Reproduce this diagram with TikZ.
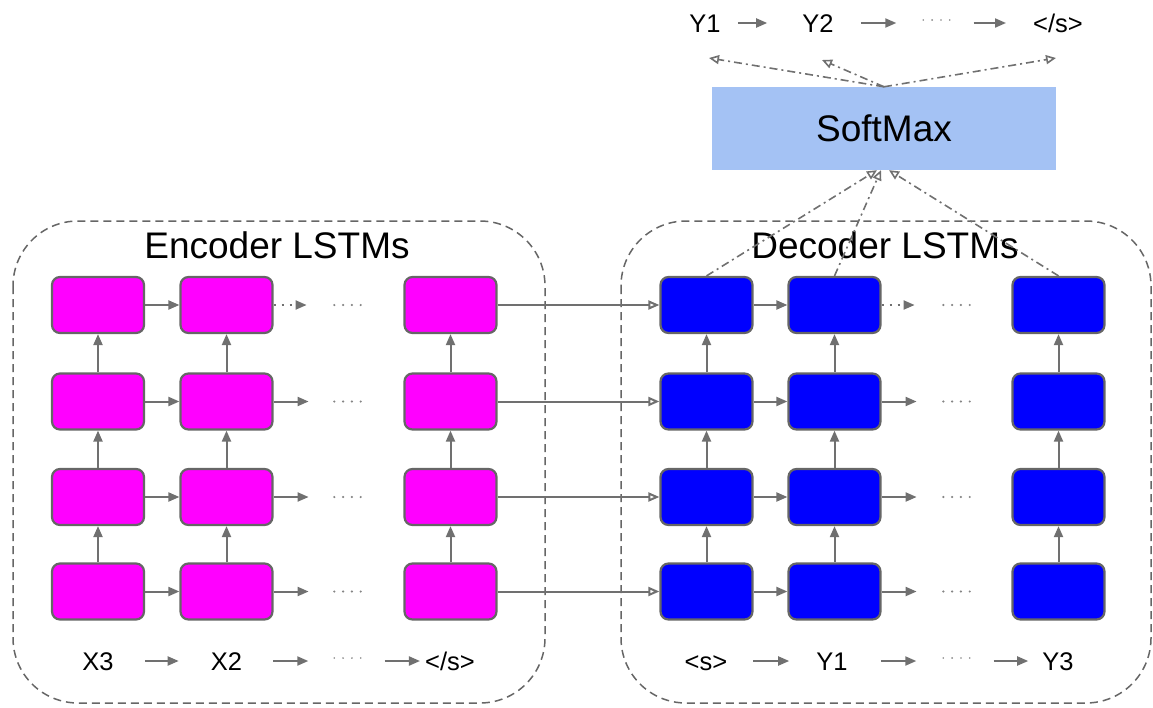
\documentclass[tikz,border=0pt]{standalone}
\usepackage{fontspec}
\setmainfont{Liberation Sans}
\usetikzlibrary{arrows.meta}

\definecolor{linegray}{RGB}{112,112,112}
\definecolor{bordergray}{RGB}{102,102,102}
\definecolor{softblue}{RGB}{164,194,244}
\definecolor{encmag}{RGB}{255,0,255}
\definecolor{decblue}{RGB}{0,0,255}

\begin{document}
\begin{tikzpicture}[x=1pt,y=-1pt,
  cell/.style={draw=bordergray, line width=2.2pt, rounded corners=8pt,
    minimum width=92pt, minimum height=56pt, inner sep=0pt},
  enc/.style={cell, fill=encmag},
  dec/.style={cell, fill=decblue},
  arr/.style={draw=linegray, line width=2pt, -{Triangle[length=11pt,width=9pt]}},
  dotarr/.style={arr, dash pattern=on 2pt off 6pt},
  openarr/.style={draw=linegray, line width=2pt,
    -{Triangle[open,length=11pt,width=9pt,fill=white]}},
  ddarr/.style={draw=linegray, line width=1.6pt,
    dash pattern=on 8pt off 4pt on 2pt off 4pt,
    -{Triangle[open,length=10pt,width=9pt,fill=white]}},
  frame/.style={draw=bordergray, line width=1.5pt, dash pattern=on 8pt off 5pt,
    rounded corners=65pt},
  title/.style={font=\fontsize{37}{44}\selectfont, anchor=base, inner sep=0pt},
  lbl/.style={font=\fontsize{25.5}{30}\selectfont, anchor=base, inner sep=0pt,
    text height=18pt, text depth=0pt},
  ellip/.style={minimum width=27pt, minimum height=4pt, inner sep=0pt},
  dots/.style={draw=linegray!85, line width=2.4pt, line cap=round,
    dash pattern=on 0pt off 8.8pt},
  sdots/.style={dots, line width=1.8pt},
]
\useasboundingbox (0,0) rectangle (1153,707);

% dashed containers
\draw[frame] (13,221) rectangle (545,703);
\draw[frame] (621,221) rectangle (1151,703);

% titles
\node[title] (enctitle) at (277,258) {Encoder LSTMs};
\node[title] (dectitle) at (885,258) {Decoder LSTMs};

% softmax layer
\node[fill=softblue, minimum width=344pt, minimum height=83pt, inner sep=0pt,
  font=\fontsize{37}{44}\selectfont] (softmax) at (884,128.5) {SoftMax};

% LSTM cells
\foreach \r/\y in {1/305,2/401.5,3/497,4/591.5} {
  \foreach \c/\x in {1/98,2/226.5,3/450.5} \node[enc] (e\r\c) at (\x,\y) {};
  \foreach \c/\x in {1/706.5,2/834.5,3/1058.5} \node[dec] (d\r\c) at (\x,\y) {};
  \node[ellip] (ee\r) at (348,\y) {};
  \node[ellip] (de\r) at (957,\y) {};
  \draw[dots] (ee\r.west) -- (ee\r.east);
  \draw[dots] (de\r.west) -- (de\r.east);
  \draw[arr] (e\r1) -- (e\r2);
  \draw[arr] (d\r1) -- (d\r2);
  \draw[openarr] (e\r3) -- (d\r1);
}

% recurrent steps after the second time step
\draw[dotarr] (e12.east) -- ++(33,0);
\draw[dotarr] (d12.east) -- ++(33,0);
\foreach \r in {2,3,4} {
  \draw[arr] (e\r2.east) -- ++(35,0);
  \draw[arr] (d\r2.east) -- ++(35,0);
}

% stacked layers
\foreach \r/\q in {2/1,3/2,4/3} {
  \foreach \c in {1,2,3} {
    \draw[arr] (e\r\c) -- (e\q\c);
    \draw[arr] (d\r\c) -- (d\q\c);
  }
}

% encoder input sequence
\node[lbl] (x3) at (98,670) {X3};
\node[lbl] (x2) at (226.5,670) {X2};
\node[lbl] (xs) at (450,670) {</s>};
\node[ellip] (xe) at (x3.center -| 348,0) {};
\draw[sdots] ([yshift=3pt]xe.west) -- ([yshift=3pt]xe.east);
\draw[arr] ([xshift=31pt]x3.east) -- ([xshift=-32pt]x2.west);
\draw[arr] ([xshift=31pt]x2.east) -- ([xshift=-26pt]xe.west);
\draw[arr] ([xshift=23pt]xe.east) -- ([xshift=-5pt]xs.west);

% decoder input sequence
\node[lbl] (ds) at (706,670) {<s>};
\node[lbl] (dy1) at (832,670) {Y1};
\node[lbl] (dy3) at (1058,670) {Y3};
\node[ellip] (dye) at (dy1.center -| 957,0) {};
\draw[sdots] ([yshift=3pt]dye.west) -- ([yshift=3pt]dye.east);
\draw[arr] ([xshift=26pt]ds.east) -- ([xshift=-27pt]dy1.west);
\draw[arr] ([xshift=33pt]dy1.east) -- ([xshift=-27pt]dye.west);
\draw[arr] ([xshift=23pt]dye.east) -- ([xshift=-14pt]dy3.west);

% output sequence
\node[lbl] (oy1) at (705,32) {Y1};
\node[lbl] (oy2) at (818,32) {Y2};
\node[lbl] (os) at (1058,32) {</s>};
\node[ellip] (oye) at (oy2.center -| 937,0) {};
\draw[sdots] ([yshift=3pt]oye.west) -- ([yshift=3pt]oye.east);
\draw[arr] ([xshift=17pt]oy1.east) -- ([xshift=-35pt]oy2.west);
\draw[arr] ([xshift=27pt]oy2.east) -- ([xshift=-27pt]oye.west);
\draw[arr] ([xshift=23pt]oye.east) -- ([xshift=-27pt]os.west);

% decoder top layer feeds the softmax
\draw[ddarr] (d11.north) -- ([xshift=-7pt]softmax.south);
\draw[ddarr] (d12.north) -- ([xshift=-3pt]softmax.south);
\draw[ddarr] (d13.north) -- ([xshift=5pt]softmax.south);

% softmax emits the output tokens
\coordinate (t1) at (709,58);
\coordinate (t2) at (822,60);
\coordinate (t3) at (1056,58);
\draw[ddarr] (softmax.north) -- (t1);
\draw[ddarr] (softmax.north) -- (t2);
\draw[ddarr] (softmax.north) -- (t3);
\end{tikzpicture}
\end{document}
